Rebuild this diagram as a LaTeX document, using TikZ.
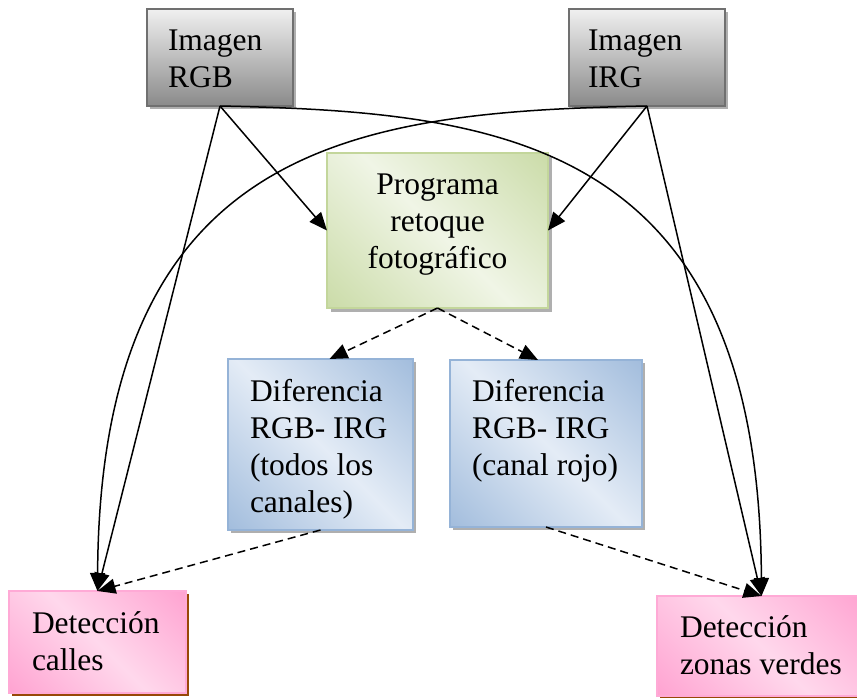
\documentclass[tikz,border=0pt]{standalone}
\usepackage{fontspec}
\setmainfont{Liberation Serif}
\usetikzlibrary{arrows.meta,shadows}
\definecolor{grayTop}{RGB}{240,240,240}
\definecolor{grayBot}{RGB}{138,138,138}
\definecolor{grayLine}{RGB}{112,112,112}
\definecolor{greenIn}{RGB}{240,245,230}
\definecolor{greenOut}{RGB}{196,215,157}
\definecolor{greenLine}{RGB}{195,214,155}
\definecolor{blueIn}{RGB}{228,236,246}
\definecolor{blueOut}{RGB}{150,180,216}
\definecolor{blueLine}{RGB}{149,179,215}
\definecolor{pinkIn}{RGB}{255,216,236}
\definecolor{pinkOut}{RGB}{255,153,204}
\definecolor{pinkLine}{RGB}{255,170,214}
\definecolor{brownSh}{RGB}{152,72,7}
\definecolor{shGray}{RGB}{175,175,175}
\pgfdeclarehorizontalshading{greendiag}{100bp}{color(0bp)=(greenOut); color(8bp)=(greenOut); color(50bp)=(greenIn); color(92bp)=(greenOut); color(100bp)=(greenOut)}
\pgfdeclarehorizontalshading{bluediag}{100bp}{color(0bp)=(blueOut); color(8bp)=(blueOut); color(50bp)=(blueIn); color(92bp)=(blueOut); color(100bp)=(blueOut)}
\pgfdeclarehorizontalshading{pinkdiag}{100bp}{color(0bp)=(pinkOut); color(8bp)=(pinkOut); color(50bp)=(pinkIn); color(92bp)=(pinkOut); color(100bp)=(pinkOut)}
\begin{document}
\begin{tikzpicture}[x=1pt,y=-1pt,
  boxbase/.style={rectangle, inner sep=0pt, outer sep=0pt},
  graybox/.style={boxbase, draw=grayLine, line width=2pt, top color=grayTop, bottom color=grayBot,
    drop shadow={shadow xshift=3pt, shadow yshift=-3pt, fill=shGray, opacity=1}},
  greenbox/.style={boxbase, draw=greenLine, line width=1.5pt, shading=greendiag, shading angle=45,
    drop shadow={shadow xshift=4pt, shadow yshift=-4pt, fill=shGray, opacity=1}},
  bluebox/.style={boxbase, draw=blueLine, line width=1.8pt, shading=bluediag, shading angle=45,
    drop shadow={shadow xshift=3pt, shadow yshift=-3pt, fill=shGray, opacity=1}},
  pinkbox/.style={boxbase, draw=pinkLine, line width=1.5pt, shading=pinkdiag, shading angle=45,
    drop shadow={shadow xshift=3pt, shadow yshift=-3pt, fill=brownSh, opacity=1}},
  txt/.style={inner sep=0pt, outer sep=0pt, align=left, anchor=north west, font=\fontsize{31.5}{37}\selectfont},
  ctxt/.style={txt, align=center, anchor=north},
  arr/.style={line width=1.5pt, -{Triangle[length=18pt,width=15pt]}},
  darr/.style={arr, dash pattern=on 8pt off 5pt}
]
\useasboundingbox (0,0) rectangle (857,697);

% boxes
\node[graybox, minimum width=146pt, minimum height=97pt] (rgb) at (220,57.5) {};
\node[graybox, minimum width=156pt, minimum height=97pt] (irg) at (647,57.5) {};
\node[greenbox, minimum width=221pt, minimum height=155pt] (prog) at (437.5,230.5) {};
\node[bluebox, minimum width=185pt, minimum height=171pt] (dif1) at (320.5,444.5) {};
\node[bluebox, minimum width=192pt, minimum height=167pt] (dif2) at (546,443.5) {};
\node[pinkbox, minimum width=177pt, minimum height=102pt] (calles) at (97.5,642) {};
\node[pinkbox, minimum width=209pt, minimum height=100pt] (zonas) at (761.5,646) {};

% texts (strut height = 0.7*37 = 25.9)
\node[txt] (rgbt) at (168,24.1) {\strut Imagen\\RGB};
\node[txt] (irgt) at (588,24.1) {\strut Imagen\\IRG};
\node[ctxt] (progt) at (437.5,168.1) {\strut Programa\\retoque\\fotográfico};
\node[txt] (dif1t) at (250,375.1) {\strut Diferencia\\RGB- IRG\\(todos los\\canales)};
\node[txt] (dif2t) at (472,375.1) {\strut Diferencia\\RGB- IRG\\(canal rojo)};
\node[txt] (callest) at (32,607.1) {\strut Detección\\calles};
\node[txt] (zonast) at (680,611.1) {\strut Detección\\zonas verdes};

% connectors
\draw[arr] (rgb.south) -- (prog.west);
\draw[arr] (irg.south) -- (prog.east);
\draw[arr] (rgb.south) -- (calles.north);
\draw[arr] (irg.south) -- (zonas.north);
\draw[arr] (rgb.south) .. controls (503,112) and (759,140) .. (zonas.north);
\draw[arr] (irg.south) .. controls (360,112) and (100,140) .. (calles.north);
\draw[darr] (prog.south) -- ([xshift=9pt]dif1.north);
\draw[darr] (prog.south) -- ([xshift=-8pt]dif2.north);
\draw[darr] (dif1.south) -- (calles.north);
\draw[darr] (dif2.south) -- (zonas.north);
\end{tikzpicture}
\end{document}
